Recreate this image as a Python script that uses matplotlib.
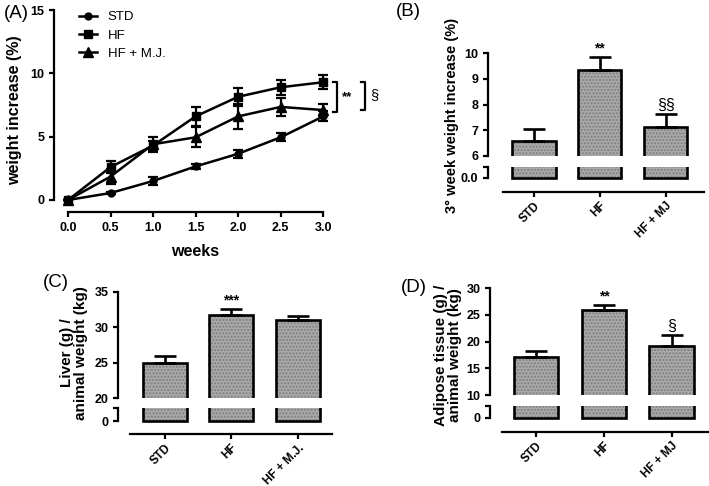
import matplotlib
matplotlib.use('Agg')
import matplotlib.pyplot as plt
from matplotlib.lines import Line2D
import numpy as np

# ========== fonts ==========
plt.rcParams['font.family'] = ['Liberation Sans', 'DejaVu Sans']
plt.rcParams['font.weight'] = 'bold'
plt.rcParams['axes.labelweight'] = 'bold'
plt.rcParams['axes.linewidth'] = 1.6
plt.rcParams['xtick.major.width'] = 1.6
plt.rcParams['ytick.major.width'] = 1.6
plt.rcParams['xtick.major.size'] = 3.5
plt.rcParams['ytick.major.size'] = 3.5
plt.rcParams['hatch.linewidth'] = 1.0

# ========== data ==========
# (A) weight increase over time
weeks = [0.0, 0.5, 1.0, 1.5, 2.0, 2.5, 3.0]
std_mean = [0.0, 0.55, 1.5, 2.65, 3.65, 4.95, 6.6]
std_err = [0.0, 0.1, 0.3, 0.2, 0.3, 0.3, 0.4]
hf_mean = [0.0, 2.6, 4.3, 6.6, 8.15, 8.9, 9.3]
hf_err = [0.0, 0.5, 0.35, 0.75, 0.7, 0.6, 0.55]
hfmj_mean = [0.0, 1.85, 4.4, 4.95, 6.6, 7.35, 7.1]
hfmj_err = [0.0, 0.6, 0.6, 0.8, 1.0, 0.7, 0.5]

# (B) 3rd week weight increase
b_groups = ['STD', 'HF', 'HF + MJ']
b_values = [6.58, 9.33, 7.13]
b_err = [0.45, 0.52, 0.5]

# (C) liver / animal weight
c_groups = ['STD', 'HF', 'HF + M.J.']
c_values = [25.0, 31.75, 31.1]
c_err = [1.0, 0.85, 0.5]

# (D) adipose tissue / animal weight
d_groups = ['STD', 'HF', 'HF + MJ']
d_values = [17.1, 25.8, 19.2]
d_err = [1.1, 1.0, 2.0]

W, H = 709, 486
fig = plt.figure(figsize=(W / 100, H / 100), dpi=100)


def px_axes(left, top, right, bottom):
    # axes from pixel box
    return fig.add_axes([left / W, 1 - bottom / H, (right - left) / W, (bottom - top) / H])


# ========== panel A ==========
axA = px_axes(54, 8, 330, 212)
axA.set_xlim(-0.165, 3.08)
axA.set_ylim(-0.95, 15.16)
for s in ['top', 'right']:
    axA.spines[s].set_visible(False)
axA.spines['left'].set_bounds(0, 15)
axA.spines['bottom'].set_bounds(0, 3)

line_kw = dict(color='black', lw=1.8, capsize=3.5, capthick=1.6, elinewidth=1.6)
series = [('STD', std_mean, std_err, 'o', 5),
          ('HF', hf_mean, hf_err, 's', 6),
          ('HF + M.J.', hfmj_mean, hfmj_err, '^', 6.5)]
handles = []
for name, m, e, mk, ms in series:
    axA.errorbar(weeks, m, yerr=e, marker=mk, ms=ms, **line_kw)
    handles.append(Line2D([], [], color='black', lw=1.8, marker=mk, ms=ms, label=name))

axA.set_xticks(weeks)
axA.set_xticklabels([f'{w:.1f}' for w in weeks])
axA.set_yticks([0, 5, 10, 15])
axA.tick_params(labelsize=9)
axA.set_ylabel('weight increase (%)', fontsize=11.5, labelpad=6)

axA.legend(handles=handles, loc='upper left', bbox_to_anchor=(0.07, 1.01), frameon=False,
           prop={'size': 9.5, 'weight': 'normal'}, handlelength=1.4, labelspacing=0.45,
           borderaxespad=0)

# significance brackets
bx = 3.165
axA.plot([bx - 0.05, bx, bx, bx - 0.05], [9.3, 9.3, 6.95, 6.95], color='k', lw=1.6, clip_on=False)
axA.text(bx + 0.05, 8.1, '**', fontsize=9.5, va='center', ha='left')
bx2 = 3.494
axA.plot([bx2 - 0.05, bx2, bx2, bx2 - 0.05], [9.3, 9.3, 7.1, 7.1], color='k', lw=1.6, clip_on=False)
axA.text(bx2 + 0.06, 8.3, '§', fontsize=10.5, va='center', ha='left', fontweight='normal')

fig.text(195 / W, 1 - 252 / H, 'weeks', fontsize=11.5, ha='center', va='center', fontweight='bold')


# ========== broken bar panels ==========
def broken_bars(left, right, top_px, brk_px, low_top, zero_px, xline_px, xlim, xline,
                ylim_top, yticks, zero_lab, groups, values, errs, stars):
    ax_up = px_axes(left, top_px, right, brk_px)
    ax_lo = px_axes(left, low_top, right, xline_px)
    lo_scale = zero_px - low_top  # px for 1 unit
    ax_lo.set_ylim(-(xline_px - zero_px) / lo_scale, 1)
    ax_up.set_ylim(*ylim_top)
    x = np.arange(len(groups))
    for ax in (ax_up, ax_lo):
        ax.set_xlim(*xlim)
        ax.bar(x, values, width=0.66, color='#a9a9a9', edgecolor='#7d7d7d', hatch='.....', lw=0)
        ax.bar(x, values, width=0.66, fill=False, edgecolor='black', lw=1.9)
        ax.spines['top'].set_visible(False)
        ax.spines['right'].set_visible(False)
    ax_up.spines['bottom'].set_visible(False)
    ax_up.set_xticks([])
    ax_up.spines['left'].set_bounds(yticks[0], yticks[-1])
    ax_up.set_yticks(yticks)
    ax_up.tick_params(labelsize=9)
    ax_up.errorbar(x, values, yerr=[np.zeros(len(errs)), errs], fmt='none', ecolor='black',
                   elinewidth=1.9, capsize=8, capthick=1.9)
    for xi, v, e, s in zip(x, values, errs, stars):
        if s:
            fs = 10 if '*' in s else 11.5
            fw = 'bold' if '*' in s else 'normal'
            ax_up.text(xi, v + e + (ylim_top[1] - ylim_top[0]) * 0.015, s, ha='center', va='bottom',
                       fontsize=fs, fontweight=fw)
    ax_lo.spines['left'].set_bounds(0, 1)
    ax_lo.set_yticks([0, 1])
    ax_lo.set_yticklabels([zero_lab, ''])
    ax_lo.spines['bottom'].set_bounds(*xline)
    ax_lo.set_xticks(x)
    ax_lo.set_xticklabels(groups, rotation=45, ha='right', rotation_mode='anchor')
    ax_lo.tick_params(axis='y', labelsize=9)
    ax_lo.tick_params(axis='x', labelsize=8.5, pad=2)
    return ax_up, ax_lo


# (B)
broken_bars(488, 705, 52, 156, 167, 178, 192, (-0.70, 2.60), (-0.47, 2.58),
            (6, 10.04), [6, 7, 8, 9, 10], '0.0', b_groups, b_values, b_err, ['', '**', '§§'])
fig.text(452 / W, 1 - 115 / H, '3° week weight increase (%)', rotation=90, fontsize=10.5,
         ha='center', va='center', fontweight='bold')

# (C)
broken_bars(118, 335, 291, 398, 408, 421, 434, (-0.705, 2.56), (-0.525, 2.52),
            (20, 35.14), [20, 25, 30, 35], '0', c_groups, c_values, c_err, ['', '***', ''])
fig.text(74 / W, 1 - 353 / H, 'Liver (g) /\nanimal weight (kg)', rotation=90, fontsize=11,
         ha='center', va='center', fontweight='bold', linespacing=1.0)

# (D)
broken_bars(490, 709, 287, 395, 406, 418, 432, (-0.68, 2.55), (-0.50, 2.55),
            (10, 30.19), [10, 15, 20, 25, 30], '0', d_groups, d_values, d_err, ['', '**', '§'])
fig.text(448 / W, 1 - 355 / H, 'Adipose tissue (g) /\nanimal weight (kg)', rotation=90, fontsize=11,
         ha='center', va='center', fontweight='bold', linespacing=1.0)

# ========== panel letters ==========
for lab, px, py in [('(A)', 16, 14), ('(B)', 408, 12), ('(C)', 56, 282), ('(D)', 414, 287)]:
    fig.text(px / W, 1 - py / H, lab, fontsize=13.5, ha='center', va='center', fontweight='normal')

plt.savefig('out.png', dpi=100)
